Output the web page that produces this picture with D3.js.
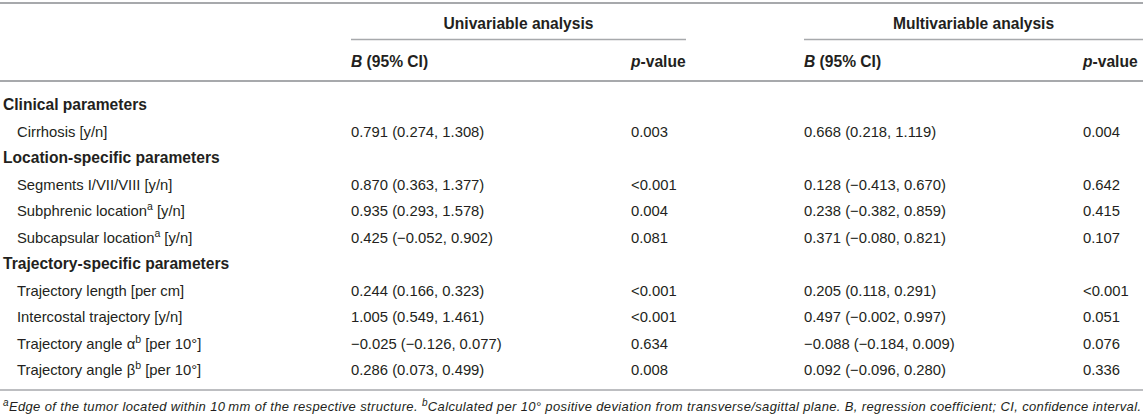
<!DOCTYPE html>
<html>
<head>
  <meta charset="utf-8">
  <title>Regression table</title>
  <script src="https://d3js.org/d3.v7.min.js"></script>
  <style>
    body { margin: 0; background: #fff; }
    text { font-family: "Liberation Sans", Arial, Helvetica, sans-serif; fill: #231f20; }
  </style>
</head>
<body>
  <div id="chart"></div>
  <script>
    // row labels, "^x" marks a superscript; group rows are flagged in rowIsGroup
    var rowLabels = [
      "Clinical parameters",
      "Cirrhosis [y/n]",
      "Location-specific parameters",
      "Segments I/VII/VIII [y/n]",
      "Subphrenic location^a [y/n]",
      "Subcapsular location^a [y/n]",
      "Trajectory-specific parameters",
      "Trajectory length [per cm]",
      "Intercostal trajectory [y/n]",
      "Trajectory angle \u03b1^b [per 10\u00b0]",
      "Trajectory angle \u03b2^b [per 10\u00b0]"
    ];
    var rowIsGroup = [true, false, true, false, false, false, true, false, false, false, false];

    var uniB = ["", "0.791 (0.274, 1.308)", "", "0.870 (0.363, 1.377)", "0.935 (0.293, 1.578)",
                "0.425 (\u22120.052, 0.902)", "", "0.244 (0.166, 0.323)", "1.005 (0.549, 1.461)",
                "\u22120.025 (\u22120.126, 0.077)", "0.286 (0.073, 0.499)"];
    var uniP = ["", "0.003", "", "<0.001", "0.004", "0.081", "", "<0.001", "<0.001", "0.634", "0.008"];

    var multiB = ["", "0.668 (0.218, 1.119)", "", "0.128 (\u22120.413, 0.670)", "0.238 (\u22120.382, 0.859)",
                  "0.371 (\u22120.080, 0.821)", "", "0.205 (0.118, 0.291)", "0.497 (\u22120.002, 0.997)",
                  "\u22120.088 (\u22120.184, 0.009)", "0.092 (\u22120.096, 0.280)"];
    var multiP = ["", "0.004", "", "0.642", "0.415", "0.107", "", "<0.001", "0.051", "0.076", "0.336"];

    var groupTitles = ["Univariable analysis", "Multivariable analysis"];
    var footnote = "^aEdge of the tumor located within 10\u2009mm of the respective structure. ^bCalculated per 10\u00b0 positive deviation from transverse/sagittal plane. B, regression coefficient; CI, confidence interval.";

    var W = 1143, H = 419;
    var ruleColor = "#a7a9ac";
    var fsReg = 14.8, fsBold = 15.6;

    var svg = d3.select("#chart")
                .append("svg")
                .attr("width", W)
                .attr("height", H);

    // column x positions
    var col = { label: 3, indent: 17, uniB: 351, uniP: 631, multiB: 804, multiP: 1083 };
    var groupSpans = [[col.uniB, 686], [col.multiB, W]];

    var yScale = d3.scaleLinear()
                   .domain([0, rowLabels.length - 1])
                   .range([104.5, 369.5]);

    // split "foo^a bar" into tspans
    function addRich(sel, str, supSize) {
      var parts = str.split(/(\^[a-z])/);
      parts.forEach(function(p) {
        if (!p) return;
        if (p[0] === "^") {
          sel.append("tspan")
             .attr("baseline-shift", "super")
             .attr("font-size", supSize)
             .text(p.slice(1));
        } else {
          sel.append("tspan").text(p);
        }
      });
    }

    // rules
    function rule(x1, x2, y, w) {
      svg.append("line")
         .attr("x1", x1).attr("x2", x2)
         .attr("y1", y).attr("y2", y)
         .attr("stroke", ruleColor)
         .attr("stroke-width", w);
    }
    rule(0, W, 3, 2);
    groupSpans.forEach(function(s) { rule(s[0], s[1], 39.5, 1.5); });
    rule(0, W, 81, 2);
    rule(0, W, 390, 1.5);

    // group titles
    svg.selectAll(".group-title")
       .data(groupTitles)
       .enter()
       .append("text")
       .attr("class", "group-title")
       .attr("x", (d, i) => (groupSpans[i][0] + groupSpans[i][1]) / 2)
       .attr("y", 28.5)
       .attr("text-anchor", "middle")
       .attr("font-size", fsBold)
       .attr("font-weight", "bold")
       .text(d => d);

    // column headers
    [col.uniB, col.multiB].forEach(function(x) {
      var t = svg.append("text").attr("x", x).attr("y", 66.5)
                 .attr("font-size", fsBold).attr("font-weight", "bold");
      t.append("tspan").attr("font-style", "italic").text("B");
      t.append("tspan").text(" (95% CI)");
    });
    [col.uniP, col.multiP].forEach(function(x) {
      var t = svg.append("text").attr("x", x).attr("y", 66.5)
                 .attr("font-size", fsBold).attr("font-weight", "bold");
      t.append("tspan").attr("font-style", "italic").text("p");
      t.append("tspan").text("-value");
    });

    // row labels
    svg.selectAll(".row-label")
       .data(rowLabels)
       .enter()
       .append("text")
       .attr("class", "row-label")
       .attr("x", (d, i) => rowIsGroup[i] ? col.label : col.indent)
       .attr("y", (d, i) => yScale(i) + 5.5)
       .attr("font-size", (d, i) => rowIsGroup[i] ? fsBold : fsReg)
       .attr("font-weight", (d, i) => rowIsGroup[i] ? "bold" : "normal")
       .each(function(d) { addRich(d3.select(this), d, 10.5); });

    // value columns
    var valueCols = [
      { x: col.uniB, values: uniB },
      { x: col.uniP, values: uniP },
      { x: col.multiB, values: multiB },
      { x: col.multiP, values: multiP }
    ];
    valueCols.forEach(function(c) {
      svg.append("g")
         .selectAll("text")
         .data(c.values)
         .enter()
         .append("text")
         .attr("x", c.x)
         .attr("y", (d, i) => yScale(i) + 5.5)
         .attr("font-size", fsReg)
         .text(d => d);
    });

    // footnote
    var fn = svg.append("text")
                .attr("x", 3)
                .attr("y", 411)
                .attr("font-size", 13)
                .attr("font-style", "italic")
                .attr("textLength", 1138)
                .attr("lengthAdjust", "spacing");
    addRich(fn, footnote, 10);
  </script>
</body>
</html>
